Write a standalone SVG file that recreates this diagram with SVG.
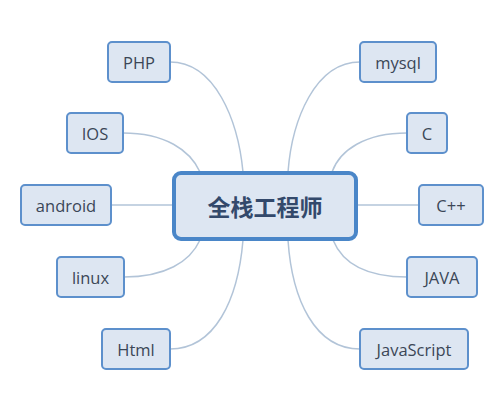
<svg xmlns="http://www.w3.org/2000/svg" width="500" height="401" viewBox="0 0 500 401">
<style>
.n rect{fill:#dde6f2;stroke:#5d90cc;stroke-width:2}
.n text{font-family:"Open Sans","Liberation Sans",sans-serif;font-size:16.5px;fill:#3b4657;text-anchor:middle;dominant-baseline:central}
#connectors path{fill:none;stroke:#b2c4d8;stroke-width:1.5}
#center rect{fill:#dde6f2;stroke:#4a86c8;stroke-width:4}
#center text{font-family:"Noto Sans CJK SC",sans-serif;font-size:23px;font-weight:bold;fill:#33496b;text-anchor:middle;dominant-baseline:central}
</style>
<rect width="500" height="401" fill="#ffffff"/>
<g id="connectors">
<path d="M170,62 C215,62 238,120 243,172"/>
<path d="M123,133 C165,133 190,150 200,172"/>
<path d="M111,205 L173,205"/>
<path d="M124,277 C165,277 190,262 200,240"/>
<path d="M170,349 C215,349 238,300 243,240"/>
<path d="M360,62 C315,62 292,120 288,172"/>
<path d="M407,133 C365,133 340,150 332,172"/>
<path d="M357,205 L419,205"/>
<path d="M407,277 C365,277 342,262 333,240"/>
<path d="M360,349 C315,349 292,300 288,240"/>
</g>
<g id="center"><rect x="174" y="173" width="182" height="66" rx="7"/><text x="265" y="206">全栈工程师</text></g>
<g id="php" class="n"><rect x="108" y="42" width="62" height="40" rx="4"/><text x="139" y="62">PHP</text></g>
<g id="ios" class="n"><rect x="67" y="113" width="56" height="40" rx="4"/><text x="95" y="133">IOS</text></g>
<g id="android" class="n"><rect x="21" y="185" width="90" height="40" rx="4"/><text x="66" y="205">android</text></g>
<g id="linux" class="n"><rect x="57" y="257" width="67" height="40" rx="4"/><text x="90.5" y="277">linux</text></g>
<g id="html" class="n"><rect x="102" y="329" width="68" height="40" rx="4"/><text x="136" y="349">Html</text></g>
<g id="mysql" class="n"><rect x="360" y="42" width="76" height="40" rx="4"/><text x="398" y="62">mysql</text></g>
<g id="c" class="n"><rect x="407" y="113" width="40" height="40" rx="4"/><text x="427" y="133">C</text></g>
<g id="cpp" class="n"><rect x="419" y="185" width="64" height="40" rx="4"/><text x="451" y="205">C++</text></g>
<g id="java" class="n"><rect x="407" y="257" width="70" height="40" rx="4"/><text x="442" y="277">JAVA</text></g>
<g id="javascript" class="n"><rect x="360" y="329" width="108" height="40" rx="4"/><text x="414" y="349">JavaScript</text></g>
</svg>
